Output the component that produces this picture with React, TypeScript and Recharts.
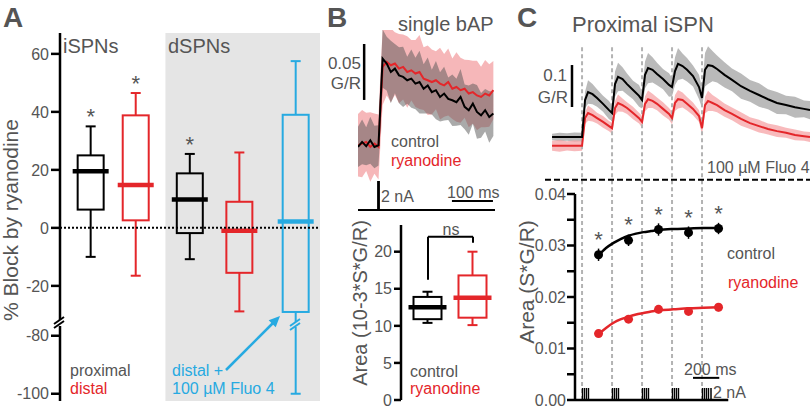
import React from "react";
import {
  ComposedChart,
  Bar,
  Cell,
  Line,
  Area,
  Scatter,
  ErrorBar,
  XAxis,
  YAxis,
  ReferenceLine,
  ReferenceArea,
} from "recharts";

const FONT = '"Liberation Sans", Arial, Helvetica, sans-serif';
const TEXT = "#555";
const RED = "#e4262a";
const BLUE = "#27aae1";
const STIM_GREY = "#b3b3b3";

// ---------- Panel A: % block by ryanodine ----------
const aGroups = ["iSPN proximal", "iSPN distal", "dSPN proximal", "dSPN distal", "dSPN distal + Fluo 4"];
const aPos = [1, 2, 3.2, 4.3, 5.55];
const aWhiskerHigh = [35, 46.5, 25.5, 26, 57.5];
const aQ3 = [25, 38.8, 18.8, 9, 39];
const aMedian = [19.5, 14.8, 9.8, -1, 2.2];
const aQ1 = [6.3, 2.6, -1.8, -15.5, -29];
const aWhiskerLow = [-10, -16.5, -10.8, -28.8, -100];
const aSignificant = [true, true, true, false, false];
const aColors = ["#000", RED, "#000", RED, BLUE];
const aTicks = [60, 40, 20, 0, -20, -80, -100];

// broken axis: the range between about -33 and -76 is cut out
const A_SHIFT = 42.8;
const toA = (v: number) => (v < -50 ? v + A_SHIFT : v);
const fromA = (v: number) => String(Math.round(v < -34 ? v - A_SHIFT : v));

// ---------- Panel B: single bAP ----------
const bTimes = [0, 10, 20, 30, 40, 50, 60, 70, 80, 90, 100, 110, 120, 130, 140, 150, 160, 170, 180, 190, 200, 210, 220, 230, 240, 250, 260, 270, 280, 290, 300, 310, 320, 330];
const bControl = [0, 0.0045, 0.0006, 0.006, 0, 0.0015, 0.079, 0.0745, 0.067, 0.07, 0.064, 0.0626, 0.0596, 0.061, 0.0566, 0.058, 0.052, 0.055, 0.049, 0.0507, 0.0447, 0.0477, 0.043, 0.0417, 0.04, 0.0447, 0.0358, 0.0328, 0.0387, 0.0313, 0.0283, 0.0328, 0.0268, 0.0298];
const bControlSem = [0.018, 0.02, 0.017, 0.021, 0.019, 0.018, 0.026, 0.024, 0.028, 0.022, 0.025, 0.027, 0.021, 0.026, 0.023, 0.028, 0.022, 0.025, 0.02, 0.026, 0.022, 0.024, 0.019, 0.023, 0.021, 0.025, 0.02, 0.022, 0.018, 0.024, 0.02, 0.019, 0.023, 0.02];
const bRyanodine = [0.0015, 0.003, 0.0045, 0, 0.003, 0, 0.0715, 0.076, 0.073, 0.0745, 0.07, 0.0715, 0.067, 0.0685, 0.0656, 0.067, 0.061, 0.0596, 0.058, 0.0596, 0.0566, 0.055, 0.058, 0.052, 0.0536, 0.0507, 0.052, 0.0477, 0.049, 0.046, 0.0447, 0.0477, 0.046, 0.0507];
const bRyanodineSem = [0.028, 0.03, 0.026, 0.031, 0.027, 0.029, 0.034, 0.03, 0.033, 0.028, 0.031, 0.029, 0.032, 0.027, 0.03, 0.033, 0.028, 0.031, 0.029, 0.026, 0.032, 0.028, 0.03, 0.027, 0.031, 0.029, 0.026, 0.03, 0.028, 0.031, 0.027, 0.03, 0.028, 0.026];
const bStimTimes = [0, 49, 49, 51, 51, 334];
const bStimCurrent = [0, 0, 2, 2, 0, 0];

const bGroups = ["control", "ryanodine"];
const bPos = [0.9, 2.4];
const bWhiskerHigh = [14.6, 20];
const bQ3 = [13.9, 16.8];
const bMedian = [12.5, 13.8];
const bQ1 = [10.9, 11.1];
const bWhiskerLow = [10.4, 10.1];
const bColors = ["#000", RED];

// ---------- Panel C: proximal iSPN, 5 bAPs ----------
const cStims = [0, 200, 400, 600, 800];
const cPulses = [0, 13, 27, 40, 200, 213, 227, 240, 400, 413, 427, 440, 600, 613, 627, 640, 800, 813, 827, 840];
const cTimes = [-200, -150, -100, -50, 0, 20, 40, 70, 100, 140, 180, 200, 220, 240, 270, 300, 340, 380, 400, 420, 440, 470, 500, 540, 580, 600, 620, 640, 670, 700, 740, 780, 800, 820, 840, 870, 900, 950, 1000, 1060, 1120, 1180, 1240, 1300, 1360, 1420, 1480, 1520];
const cControl = [
  0, 0, 0, 0, 0,
  0.088, 0.107, 0.102, 0.093, 0.079, 0.064,
  0.057, 0.126, 0.143, 0.138, 0.126, 0.112, 0.098,
  0.088, 0.148, 0.164, 0.16, 0.15, 0.138, 0.124,
  0.119, 0.157, 0.174, 0.169, 0.16, 0.145, 0.119,
  0.093, 0.16, 0.171, 0.169, 0.162, 0.148, 0.136,
  0.121, 0.11, 0.1, 0.09, 0.081, 0.076, 0.071, 0.067, 0.064,
];
const cControlSem = [
  0.008, 0.01, 0.009, 0.011, 0.01,
  0.02, 0.028, 0.024, 0.021, 0.019, 0.022,
  0.018, 0.03, 0.034, 0.028, 0.025, 0.022, 0.026,
  0.02, 0.032, 0.036, 0.03, 0.027, 0.024, 0.028,
  0.022, 0.033, 0.038, 0.03, 0.028, 0.025, 0.029,
  0.024, 0.04, 0.045, 0.036, 0.032, 0.03, 0.027,
  0.03, 0.026, 0.028, 0.024, 0.026, 0.022, 0.025, 0.02, 0.022,
];
const cRyanodine = [
  -0.021, -0.021, -0.021, -0.021, -0.021,
  0.045, 0.057, 0.052, 0.045, 0.036, 0.026,
  0.021, 0.069, 0.081, 0.076, 0.069, 0.057, 0.045,
  0.036, 0.079, 0.09, 0.086, 0.079, 0.067, 0.055,
  0.045, 0.081, 0.09, 0.088, 0.079, 0.067, 0.05,
  0.021, 0.076, 0.086, 0.081, 0.076, 0.064, 0.055,
  0.043, 0.033, 0.026, 0.019, 0.014, 0.01, 0.005, 0.002, 0,
];
const cRyanodineSem = [
  0.012, 0.014, 0.011, 0.013, 0.012,
  0.014, 0.018, 0.015, 0.013, 0.014, 0.012,
  0.013, 0.017, 0.02, 0.016, 0.014, 0.015, 0.013,
  0.014, 0.018, 0.021, 0.017, 0.015, 0.016, 0.014,
  0.015, 0.019, 0.022, 0.018, 0.016, 0.015, 0.014,
  0.016, 0.02, 0.024, 0.019, 0.017, 0.016, 0.015,
  0.016, 0.014, 0.015, 0.013, 0.014, 0.012, 0.013, 0.011, 0.012,
];

const cAreaTimes = [110, 310, 510, 710, 910];
const cAreaControl = [0.0282, 0.031, 0.0331, 0.0325, 0.0333];
const cAreaControlSem = [0.0012, 0.0011, 0.0012, 0.0012, 0.0011];
const cAreaRyanodine = [0.0129, 0.0157, 0.0176, 0.0172, 0.018];
const cAreaRyanodineSem = [0.0007, 0.0007, 0.0008, 0.0007, 0.0008];
const cAreaSignificant = [true, true, true, true, true];
const cFitTimes = [110, 160, 210, 260, 310, 360, 410, 460, 510, 610, 710, 810, 910];
const cFitControl = [0.0281, 0.0295, 0.0305, 0.0313, 0.0319, 0.0323, 0.0326, 0.0328, 0.033, 0.0332, 0.0333, 0.0334, 0.0334];
const cFitRyanodine = [0.0128, 0.014, 0.015, 0.0157, 0.0162, 0.0166, 0.0169, 0.0172, 0.0174, 0.0176, 0.0178, 0.0179, 0.018];
const cAreaTicks = [0, 0.005, 0.01, 0.015, 0.02, 0.025, 0.03, 0.035, 0.04];

// ---------- tables ----------
const aRows = aGroups.map((g, i) => ({
  group: g,
  pos: aPos[i],
  hi: toA(aWhiskerHigh[i]),
  q3: toA(aQ3[i]),
  med: toA(aMedian[i]),
  q1: toA(aQ1[i]),
  lo: toA(aWhiskerLow[i]),
  range: [toA(aWhiskerLow[i]), toA(aWhiskerHigh[i])],
  sig: aSignificant[i],
}));

const bBoxRows = bGroups.map((g, i) => ({
  group: g,
  pos: bPos[i],
  hi: bWhiskerHigh[i],
  q3: bQ3[i],
  med: bMedian[i],
  q1: bQ1[i],
  lo: bWhiskerLow[i],
  range: [bWhiskerLow[i], bWhiskerHigh[i]],
  sig: false,
}));

const bRows = bTimes.map((t, i) => ({
  t,
  control: bControl[i],
  ryanodine: bRyanodine[i],
  controlBand: [bControl[i] - bControlSem[i], bControl[i] + bControlSem[i]],
  ryanodineBand: [bRyanodine[i] - bRyanodineSem[i], bRyanodine[i] + bRyanodineSem[i]],
}));

const bStimRows = bStimTimes.map((t, i) => ({ t, i: bStimCurrent[i] }));

const cRows = cTimes.map((t, i) => ({
  t,
  control: cControl[i],
  ryanodine: cRyanodine[i],
  controlBand: [cControl[i] - cControlSem[i], cControl[i] + cControlSem[i]],
  ryanodineBand: [cRyanodine[i] - cRyanodineSem[i], cRyanodine[i] + cRyanodineSem[i]],
}));

const cFitRows = cFitTimes.map((t, i) => ({ t, control: cFitControl[i], ryanodine: cFitRyanodine[i] }));
const cControlPts = cAreaTimes.map((t, i) => ({ t, v: cAreaControl[i], err: cAreaControlSem[i], sig: cAreaSignificant[i] }));
const cRyanodinePts = cAreaTimes.map((t, i) => ({ t, v: cAreaRyanodine[i], err: cAreaRyanodineSem[i], sig: false }));
const cPulseRows = cPulses.map((t) => ({ t, v: 0 }));

// ---------- shapes ----------
function BoxShape(props: any) {
  const { x, y, width, height, payload, fill } = props;
  const top = Math.min(y, y + height);
  const h = Math.abs(height);
  const k = h / (payload.hi - payload.lo);
  const py = (v: number) => top + (payload.hi - v) * k;
  const cx = x + width / 2;
  return (
    <g>
      <line x1={cx} x2={cx} y1={py(payload.hi)} y2={py(payload.q3)} stroke={fill} strokeWidth={2} />
      <line x1={cx - 5} x2={cx + 5} y1={py(payload.hi)} y2={py(payload.hi)} stroke={fill} strokeWidth={2} />
      <rect x={x} y={py(payload.q3)} width={width} height={py(payload.q1) - py(payload.q3)} fill="none" stroke={fill} strokeWidth={2} />
      <line x1={cx} x2={cx} y1={py(payload.q1)} y2={py(payload.lo)} stroke={fill} strokeWidth={2} />
      <line x1={cx - 5} x2={cx + 5} y1={py(payload.lo)} y2={py(payload.lo)} stroke={fill} strokeWidth={2} />
      <line x1={x - 5} x2={x + width + 5} y1={py(payload.med)} y2={py(payload.med)} stroke={fill} strokeWidth={4.5} />
      {payload.sig && (
        <text x={cx} y={py(payload.hi) - 2} textAnchor="middle" fontSize={22} fill={TEXT}>
          *
        </text>
      )}
    </g>
  );
}

function DotShape(color: string) {
  return (props: any) => {
    const { cx, cy, payload } = props;
    return (
      <g>
        <circle cx={cx} cy={cy} r={4.5} fill={color} />
        {payload.sig && (
          <text x={cx} y={cy - 8} textAnchor="middle" fontSize={22} fill={TEXT}>
            *
          </text>
        )}
      </g>
    );
  };
}

function PulseShape(props: any) {
  const { cx, cy } = props;
  const px = Math.round(cx) + 0.5;
  return <line x1={px} x2={px} y1={cy} y2={cy - 12} stroke="#000" strokeWidth={1.4} />;
}

const axisLine = { stroke: "#000", strokeWidth: 2.5 };
const tickStyle = { fill: TEXT, fontSize: 16 };

function Label(p: { x: number; y: number; size?: number; fill?: string; anchor?: string; bold?: boolean; children: React.ReactNode }) {
  return (
    <text
      x={p.x}
      y={p.y}
      fontSize={p.size ?? 16}
      fill={p.fill ?? TEXT}
      textAnchor={(p.anchor as any) ?? "start"}
      fontWeight={p.bold ? "bold" : "normal"}
      fontFamily={FONT}
    >
      {p.children}
    </text>
  );
}

function VLabel(p: { x: number; y: number; size?: number; children: React.ReactNode }) {
  return (
    <text transform={`translate(${p.x},${p.y}) rotate(-90)`} textAnchor="middle" fontSize={p.size ?? 21} fill={TEXT} fontFamily={FONT}>
      {p.children}
    </text>
  );
}

const abs = (left: number, top: number): React.CSSProperties => ({ position: "absolute", left, top });

export default function App() {
  return (
    <div style={{ position: "absolute", left: 0, top: 0, width: 810, height: 410, background: "#fff", fontFamily: FONT, overflow: "hidden" }}>
      {/* A */}
      <div style={abs(0, 0)}>
        <ComposedChart width={330} height={410} data={aRows} margin={{ top: 33, right: 10, bottom: 9, left: 0 }}>
          <XAxis type="number" dataKey="pos" domain={[0.33, 6.1]} hide />
          <YAxis
            type="number"
            domain={[-59.7, 67.2]}
            ticks={aTicks.map(toA)}
            tickFormatter={fromA}
            interval={0}
            width={60}
            axisLine={axisLine}
            tickLine={axisLine}
            tickSize={9}
            tickMargin={2}
            tick={tickStyle}
            allowDataOverflow
          />
          <ReferenceArea x1={2.67} x2={6.1} fill="#e5e5e5" fillOpacity={1} stroke="none" />
          <ReferenceLine y={0} stroke="#000" strokeWidth={2} strokeDasharray="2 2" />
          <Bar dataKey="range" barSize={26} shape={BoxShape} isAnimationActive={false}>
            {aRows.map((r, i) => (
              <Cell key={r.group} fill={aColors[i]} />
            ))}
          </Bar>
        </ComposedChart>
      </div>

      {/* B traces */}
      <div style={abs(358, 30)}>
        <ComposedChart width={137} height={155} data={bRows} margin={{ top: 0, right: 0, bottom: 0, left: 0 }}>
          <XAxis type="number" dataKey="t" domain={[0, 334]} hide />
          <YAxis type="number" domain={[-0.034, 0.1045]} hide allowDataOverflow />
          <Area dataKey="ryanodineBand" type="linear" stroke="none" fill="#ee7b7f" fillOpacity={0.55} isAnimationActive={false} />
          <Area dataKey="controlBand" type="linear" stroke="none" fill="#555" fillOpacity={0.5} isAnimationActive={false} />
          <Line dataKey="ryanodine" type="linear" stroke={RED} strokeWidth={2} dot={false} isAnimationActive={false} />
          <Line dataKey="control" type="linear" stroke="#000" strokeWidth={2} dot={false} isAnimationActive={false} />
          <ReferenceLine segment={[{ x: 15, y: 0.042 }, { x: 15, y: 0.092 }]} stroke="#000" strokeWidth={2.5} />
        </ComposedChart>
      </div>

      {/* B stimulus */}
      <div style={abs(358, 178)}>
        <ComposedChart width={137} height={34} data={bStimRows} margin={{ top: 0, right: 0, bottom: 0, left: 0 }}>
          <XAxis type="number" dataKey="t" domain={[0, 334]} hide />
          <YAxis type="number" domain={[-0.143, 2.286]} hide allowDataOverflow />
          <Line dataKey="i" type="linear" stroke="#000" strokeWidth={2} dot={false} isAnimationActive={false} />
          <ReferenceLine segment={[{ x: 229, y: 0.64 }, { x: 329, y: 0.64 }]} stroke="#000" strokeWidth={2} />
        </ComposedChart>
      </div>

      {/* B area */}
      <div style={abs(361, 215)}>
        <ComposedChart width={134} height={195} data={bBoxRows} margin={{ top: 10, right: 4, bottom: 10, left: 0 }}>
          <XAxis type="number" dataKey="pos" domain={[0, 3]} hide />
          <YAxis
            type="number"
            domain={[0, 23.6]}
            ticks={[0, 5, 10, 15, 20]}
            interval={0}
            width={40}
            axisLine={axisLine}
            tickLine={axisLine}
            tickSize={7}
            tickMargin={2}
            tick={tickStyle}
            allowDataOverflow
          />
          <Bar dataKey="range" barSize={28} shape={BoxShape} isAnimationActive={false}>
            {bBoxRows.map((r, i) => (
              <Cell key={r.group} fill={bColors[i]} />
            ))}
          </Bar>
          <ReferenceLine segment={[{ x: 0.9, y: 16.2 }, { x: 0.9, y: 22 }]} stroke="#000" strokeWidth={2} />
          <ReferenceLine segment={[{ x: 0.9, y: 22 }, { x: 2.4, y: 22 }]} stroke="#000" strokeWidth={2} />
          <ReferenceLine segment={[{ x: 2.4, y: 22 }, { x: 2.4, y: 21.2 }]} stroke="#000" strokeWidth={2} />
        </ComposedChart>
      </div>

      {/* C traces */}
      <div style={abs(545, 40)}>
        <ComposedChart width={265} height={154} data={cRows} margin={{ top: 0, right: 0, bottom: 0, left: 0 }}>
          <XAxis type="number" dataKey="t" domain={[-247, 1520]} hide />
          <YAxis type="number" domain={[-0.1357, 0.231]} hide allowDataOverflow />
          {cStims.map((s) => (
            <ReferenceLine key={s} segment={[{ x: s, y: 0.214 }, { x: s, y: -0.1357 }]} stroke={STIM_GREY} strokeWidth={2} strokeDasharray="4 3" />
          ))}
          <Area dataKey="controlBand" type="linear" stroke="none" fill="#b3b3b3" fillOpacity={0.9} isAnimationActive={false} />
          <Area dataKey="ryanodineBand" type="linear" stroke="none" fill="#f5a3a6" fillOpacity={0.75} isAnimationActive={false} />
          <Line dataKey="ryanodine" type="linear" stroke={RED} strokeWidth={2} dot={false} isAnimationActive={false} />
          <Line dataKey="control" type="linear" stroke="#000" strokeWidth={2} dot={false} isAnimationActive={false} />
          <ReferenceLine segment={[{ x: -67, y: 0.0714 }, { x: -67, y: 0.1714 }]} stroke="#000" strokeWidth={2.5} />
          <ReferenceLine y={-0.102} stroke="#000" strokeWidth={2} strokeDasharray="6 3" />
        </ComposedChart>
      </div>

      {/* C area vs spike */}
      <div style={abs(525, 184)}>
        <ComposedChart width={285} height={226} data={cFitRows} margin={{ top: 10, right: 0, bottom: 10, left: 0 }}>
          <XAxis type="number" dataKey="t" domain={[-47, 1520]} hide />
          <YAxis
            type="number"
            domain={[0, 0.04]}
            ticks={cAreaTicks}
            interval={0}
            tickFormatter={(v: number) => (Math.round(v * 1000) % 10 === 0 ? v.toFixed(2) : "")}
            width={50}
            axisLine={axisLine}
            tickLine={axisLine}
            tickSize={8}
            tickMargin={1}
            tick={tickStyle}
            allowDataOverflow
          />
          {cStims.map((s) => (
            <ReferenceLine key={s} x={s} stroke={STIM_GREY} strokeWidth={2} strokeDasharray="4 3" />
          ))}
          <ReferenceLine segment={[{ x: -47, y: 0 }, { x: 975, y: 0 }]} stroke="#000" strokeWidth={2.5} />
          <ReferenceLine segment={[{ x: 740, y: 0.0043 }, { x: 915, y: 0.0043 }]} stroke="#000" strokeWidth={2} />
          <Line dataKey="control" type="monotone" stroke="#000" strokeWidth={2.5} dot={false} isAnimationActive={false} />
          <Line dataKey="ryanodine" type="monotone" stroke={RED} strokeWidth={2.5} dot={false} isAnimationActive={false} />
          <Scatter data={cControlPts} dataKey="v" shape={DotShape("#000")} isAnimationActive={false}>
            <ErrorBar dataKey="err" direction="y" width={0} stroke="#000" strokeWidth={1.5} />
          </Scatter>
          <Scatter data={cRyanodinePts} dataKey="v" shape={DotShape(RED)} isAnimationActive={false}>
            <ErrorBar dataKey="err" direction="y" width={0} stroke={RED} strokeWidth={1.5} />
          </Scatter>
          <Scatter data={cPulseRows} dataKey="v" shape={PulseShape} isAnimationActive={false} />
        </ComposedChart>
      </div>

      {/* texts and small decorations */}
      <svg width={810} height={410} style={{ position: "absolute", left: 0, top: 0, pointerEvents: "none" }}>
        {/* A */}
        <Label x={3} y={27} size={28} bold>A</Label>
        <Label x={63} y={53} size={20}>iSPNs</Label>
        <Label x={168} y={53} size={20}>dSPNs</Label>
        <Label x={70} y={376}>proximal</Label>
        <Label x={70} y={394} fill={RED}>distal</Label>
        <Label x={172} y={376} fill={BLUE}>distal +</Label>
        <Label x={172} y={394} fill={BLUE}>100 µM Fluo 4</Label>
        <VLabel x={18} y={220}>% Block by ryanodine</VLabel>
        <rect x={56} y={320} width={7} height={6} fill="#fff" />
        <line x1={54} y1={324} x2={64} y2={317} stroke="#000" strokeWidth={2} />
        <line x1={54} y1={328} x2={64} y2={321} stroke="#000" strokeWidth={2} />
        <rect x={291} y={322} width={8} height={5} fill="#e5e5e5" />
        <line x1={290} y1={326} x2={300} y2={319} stroke={BLUE} strokeWidth={2} />
        <line x1={290} y1={330} x2={300} y2={323} stroke={BLUE} strokeWidth={2} />
        <line x1={226} y1={370} x2={273} y2={323} stroke={BLUE} strokeWidth={2.5} />
        <polygon points="280,316 275.7,327.3 268.7,320.3" fill={BLUE} />

        {/* B */}
        <Label x={327} y={27} size={28} bold>B</Label>
        <Label x={398} y={31} size={20}>single bAP</Label>
        <Label x={361} y={69} size={17} anchor="end">0.05</Label>
        <Label x={361} y={89} size={17} anchor="end">G/R</Label>
        <Label x={391} y={147}>control</Label>
        <Label x={391} y={166} fill={RED}>ryanodine</Label>
        <Label x={381} y={202}>2 nA</Label>
        <Label x={447} y={198}>100 ms</Label>
        <Label x={451} y={235} anchor="middle">ns</Label>
        <Label x={410} y={377}>control</Label>
        <Label x={410} y={394} fill={RED}>ryanodine</Label>
        <VLabel x={367} y={303} size={20}>Area (10-3*S*G/R)</VLabel>

        {/* C */}
        <Label x={517} y={27} size={28} bold>C</Label>
        <Label x={572} y={32} size={22}>Proximal iSPN</Label>
        <Label x={567} y={81} size={17} anchor="end">0.1</Label>
        <Label x={568} y={103} size={17} anchor="end">G/R</Label>
        <Label x={707} y={173}>100 µM Fluo 4</Label>
        <Label x={727} y={259}>control</Label>
        <Label x={728} y={288} fill={RED}>ryanodine</Label>
        <Label x={684} y={375}>200 ms</Label>
        <Label x={713} y={398}>2 nA</Label>
        <line x1={711} y1={388} x2={711} y2={400} stroke="#000" strokeWidth={1.5} />
        <VLabel x={534} y={282}>Area (S*G/R)</VLabel>
      </svg>
    </div>
  );
}
